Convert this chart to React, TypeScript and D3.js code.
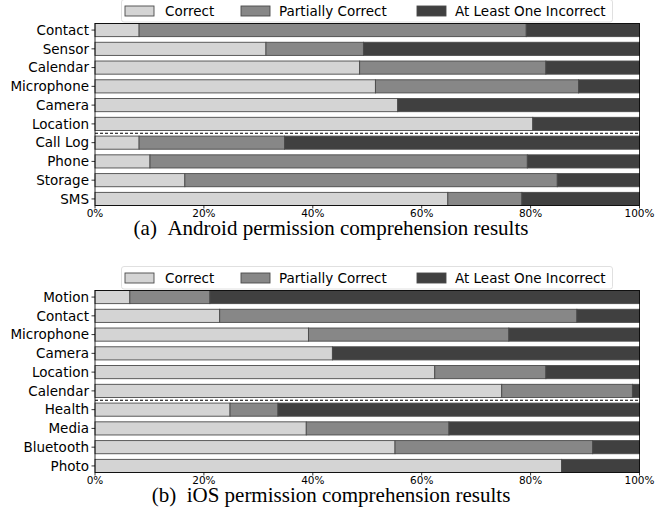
import React from 'react'
import {scaleLinear, scaleBand} from 'd3'

// values, in percent (top-to-bottom order)
const androidCategories = ['Contact', 'Sensor', 'Calendar', 'Microphone', 'Camera', 'Location', 'Call Log', 'Phone', 'Storage', 'SMS']
const androidCorrect = [8.1, 31.4, 48.6, 51.5, 55.6, 80.4, 8.1, 10.1, 16.5, 64.8]
const androidPartial = [71.1, 17.9, 34.2, 37.3, 0, 0, 26.7, 69.3, 68.4, 13.6]

const iosCategories = ['Motion', 'Contact', 'Microphone', 'Camera', 'Location', 'Calendar', 'Health', 'Media', 'Bluetooth', 'Photo']
const iosCorrect = [6.4, 22.9, 39.2, 43.6, 62.4, 74.7, 24.8, 38.8, 55.1, 85.7]
const iosPartial = [14.7, 65.6, 36.8, 0, 20.4, 24.0, 8.8, 26.2, 36.3, 0]

const seriesNames = ['Correct', 'Partially Correct', 'At Least One Incorrect']
const xTicks = [0, 20, 40, 60, 80, 100]

const colors = ['#d4d4d4', '#878787', '#404040']
const sansFont = 'DejaVu Sans, sans-serif'

const left = 95
const right = 639.5

const Panel = ({top, categories, correct, partial, dashAfter, caption}) => {
  const bottom = top + 182
  const x = scaleLinear().domain([0, 100]).range([left, right])
  const y = scaleBand().domain(categories).range([top, bottom]).paddingInner(0.3).paddingOuter(0)
  const bh = y.bandwidth()

  // dashed separator sits in the gap between two groups
  const dashY = (y(categories[dashAfter]) + bh + y(categories[dashAfter + 1])) / 2

  const legendTop = top - 24
  const legendItems = [
    {px: 125, tx: 165},
    {px: 241, tx: 279},
    {px: 417, tx: 455}
  ]

  return (
    <g>
      {categories.map((c, i) => {
        const segs = [
          [0, correct[i]],
          [correct[i], correct[i] + partial[i]],
          [correct[i] + partial[i], 100]
        ]
        return (
          <g key={c}>
            {segs.map((s, k) =>
              s[1] - s[0] > 0 ? (
                <rect
                  key={k}
                  x={x(s[0])}
                  y={y(c)}
                  width={x(s[1]) - x(s[0])}
                  height={bh}
                  fill={colors[k]}
                  stroke="#4a4a4a"
                  strokeWidth={0.9}
                />
              ) : null
            )}
            <line x1={left - 3.5} x2={left} y1={y(c) + bh / 2} y2={y(c) + bh / 2} stroke="#000" strokeWidth={0.8} />
            <text x={left - 6} y={y(c) + bh / 2} dy="0.35em" textAnchor="end" fontFamily={sansFont} fontSize={13.5}>
              {c}
            </text>
          </g>
        )
      })}
      <line x1={left} x2={right} y1={dashY} y2={dashY} stroke="#000" strokeWidth={1} strokeDasharray="3,2" />
      <rect x={left} y={top} width={right - left} height={bottom - top} fill="none" stroke="#000" strokeWidth={0.8} />
      {xTicks.map(t => (
        <g key={t}>
          <line x1={x(t)} x2={x(t)} y1={bottom} y2={bottom + 3} stroke="#000" strokeWidth={0.8} />
          <text x={x(t)} y={bottom + 11.5} textAnchor="middle" fontFamily={sansFont} fontSize={10.5}>
            {t + '%'}
          </text>
        </g>
      ))}
      <rect x={121.5} y={legendTop} width={491} height={22.5} rx={2.5} fill="#fff" fillOpacity={0.85} stroke="#d8d8d8" strokeWidth={0.8} />
      {legendItems.map((l, i) => (
        <g key={i}>
          <rect x={l.px} y={legendTop + 6.5} width={29} height={10} fill={colors[i]} stroke="#4a4a4a" strokeWidth={0.9} />
          <text x={l.tx} y={legendTop + 11.5} dy="0.35em" fontFamily={sansFont} fontSize={13.5}>
            {seriesNames[i]}
          </text>
        </g>
      ))}
      <text x={331} y={bottom + 29.5} textAnchor="middle" fontFamily="Liberation Serif, Times New Roman, serif" fontSize={21} xmlSpace="preserve">
        {caption}
      </text>
    </g>
  )
}

export default function App() {
  return (
    <svg width={666} height={509} style={{position: 'absolute', left: 0, top: 0, background: '#fff'}}>
      <Panel
        top={23.5}
        categories={androidCategories}
        correct={androidCorrect}
        partial={androidPartial}
        dashAfter={5}
        caption={'(a)\u2002Android permission comprehension results'}
      />
      <Panel
        top={290.5}
        categories={iosCategories}
        correct={iosCorrect}
        partial={iosPartial}
        dashAfter={5}
        caption={'(b)\u2002iOS permission comprehension results'}
      />
    </svg>
  )
}
